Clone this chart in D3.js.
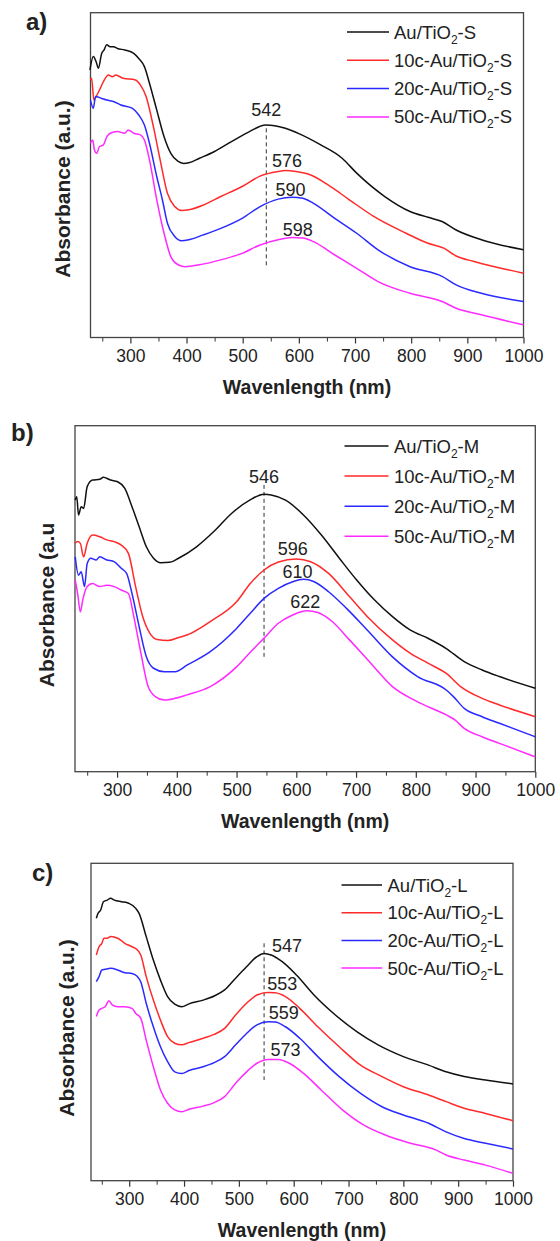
<!DOCTYPE html>
<html lang="en">
<head>
<meta charset="utf-8">
<title>UV-Vis absorbance</title>
<script src="https://d3js.org/d3.v7.min.js"></script>
<style>
  body { margin: 0; background: #fff; }
  text { font-family: "Liberation Sans", Arial, sans-serif; fill: #222; }
</style>
</head>
<body>
<script>
// ---- data (wavelength nm, absorbance a.u.) ----
var xTicks = [300, 400, 500, 600, 700, 800, 900, 1000];
var seriesColors = ["#111111", "#ff2a2a", "#2a2aff", "#ff2aff"];

// panel a, -S samples
var namesA = ["Au/TiO|2|-S", "10c-Au/TiO|2|-S", "20c-Au/TiO|2|-S", "50c-Au/TiO|2|-S"];
var aBlack = [[228,0.824],[234,0.865],[239,0.849],[243,0.829],[249,0.875],[253,0.885],[258,0.901],[264,0.895],[270,0.895],[277,0.890],[290,0.885],[306,0.875],[315,0.859],[325,0.834],[334,0.783],[347,0.700],[360,0.618],[372,0.567],[385,0.542],[395,0.536],[404,0.538],[423,0.552],[449,0.572],[480,0.603],[512,0.634],[541,0.654],[557,0.652],[576,0.644],[601,0.627],[639,0.593],[677,0.552],[703,0.506],[753,0.434],[798,0.388],[830,0.370],[855,0.357],[880,0.331],[925,0.301],[1000,0.270]];
var aRed = [[229,0.793],[231,0.798],[235,0.731],[239,0.742],[245,0.762],[252,0.788],[261,0.808],[268,0.803],[274,0.808],[287,0.798],[309,0.793],[318,0.777],[328,0.742],[341,0.649],[353,0.547],[366,0.444],[379,0.403],[391,0.391],[404,0.393],[430,0.408],[461,0.434],[499,0.465],[531,0.497],[563,0.511],[576,0.514],[595,0.511],[620,0.501],[652,0.470],[690,0.424],[734,0.372],[791,0.321],[830,0.290],[858,0.275],[880,0.251],[912,0.234],[1000,0.198]];
var aBlue = [[229,0.731],[234,0.706],[238,0.742],[249,0.736],[258,0.731],[271,0.726],[283,0.716],[303,0.706],[315,0.685],[325,0.654],[334,0.598],[347,0.495],[357,0.424],[366,0.352],[379,0.311],[391,0.298],[404,0.301],[430,0.316],[461,0.336],[499,0.367],[531,0.403],[563,0.426],[588,0.432],[607,0.429],[626,0.413],[664,0.367],[703,0.321],[741,0.270],[798,0.218],[855,0.188],[880,0.162],[925,0.136],[1000,0.111]];
var aPink = [[229,0.598],[233,0.608],[236,0.577],[240,0.567],[245,0.588],[252,0.593],[258,0.618],[264,0.629],[277,0.634],[290,0.629],[296,0.639],[306,0.629],[318,0.624],[325,0.608],[334,0.547],[347,0.424],[360,0.321],[372,0.249],[385,0.224],[398,0.218],[423,0.224],[461,0.239],[499,0.259],[531,0.285],[563,0.301],[588,0.308],[607,0.306],[626,0.295],[664,0.254],[703,0.213],[741,0.172],[798,0.136],[855,0.111],[880,0.090],[925,0.070],[1000,0.039]];
var peakTextA = ["542", "576", "590", "598"];
var peakPosA = [[542,0.700],[579,0.542],[585,0.454],[598,0.331]];
var dashA = [542, 0.644, 0.213];

// panel b, -M samples
var namesB = ["Au/TiO|2|-M", "10c-Au/TiO|2|-M", "20c-Au/TiO|2|-M", "50c-Au/TiO|2|-M"];
var bBlack = [[230,0.785],[232.5,0.795],[235.5,0.742],[240,0.766],[244,0.761],[250,0.824],[259,0.843],[271,0.845],[277,0.851],[289,0.843],[301,0.838],[313,0.819],[325,0.766],[337,0.708],[349,0.650],[361,0.617],[373,0.604],[388,0.605],[403,0.617],[433,0.650],[462,0.694],[492,0.747],[522,0.785],[546,0.802],[558,0.800],[582,0.785],[612,0.742],[642,0.684],[672,0.617],[701,0.554],[731,0.496],[761,0.448],[791,0.409],[821,0.385],[851,0.356],[881,0.318],[911,0.294],[940,0.275],[1000,0.241]];
var bRed = [[230,0.660],[234,0.665],[238.5,0.660],[244,0.621],[250,0.660],[259,0.684],[271,0.679],[283,0.670],[295,0.665],[307,0.655],[319,0.631],[331,0.535],[343,0.448],[355,0.400],[367,0.382],[385,0.379],[403,0.388],[417,0.395],[456,0.434],[500,0.491],[523,0.544],[546,0.583],[570,0.606],[600,0.615],[624,0.607],[654,0.573],[689,0.506],[719,0.448],[761,0.381],[791,0.342],[821,0.313],[851,0.284],[875,0.246],[911,0.212],[940,0.193],[1000,0.159]];
var bBlue = [[230,0.621],[235.5,0.568],[240,0.578],[245.5,0.535],[250,0.602],[256,0.617],[265,0.612],[271,0.621],[283,0.612],[295,0.607],[307,0.588],[316,0.573],[325,0.515],[337,0.419],[349,0.332],[361,0.299],[379,0.289],[397,0.289],[417,0.308],[456,0.347],[500,0.414],[523,0.458],[546,0.501],[570,0.530],[594,0.549],[612,0.556],[630,0.549],[654,0.520],[684,0.472],[719,0.409],[761,0.332],[803,0.275],[851,0.236],[863,0.217],[881,0.183],[911,0.159],[940,0.140],[1000,0.101]];
var bPink = [[230,0.554],[234,0.515],[238.5,0.462],[242.5,0.496],[250,0.535],[259,0.544],[271,0.535],[283,0.539],[295,0.535],[307,0.525],[319,0.515],[328,0.448],[340,0.342],[352,0.246],[364,0.217],[379,0.207],[397,0.212],[417,0.222],[456,0.246],[500,0.303],[523,0.345],[546,0.386],[570,0.429],[594,0.453],[618,0.465],[636,0.460],[660,0.434],[689,0.381],[725,0.313],[761,0.246],[803,0.202],[851,0.164],[866,0.149],[881,0.125],[911,0.101],[940,0.082],[1000,0.043]];
var peakTextB = ["546", "596", "610", "622"];
var peakPosB = [[546,0.853],[594,0.644],[602,0.576],[615,0.491]];
var dashB = [546, 0.829, 0.332];

// panel c, -L samples
var namesC = ["Au/TiO|2|-L", "10c-Au/TiO|2|-L", "20c-Au/TiO|2|-L", "50c-Au/TiO|2|-L"];
var cBlack = [[240,0.827],[243,0.842],[248,0.853],[253,0.879],[260,0.884],[266,0.890],[273,0.884],[286,0.879],[299,0.874],[312,0.858],[318,0.842],[331,0.769],[344,0.695],[357,0.632],[370,0.580],[383,0.556],[396,0.548],[409,0.557],[435,0.569],[455,0.582],[474,0.601],[494,0.638],[514,0.674],[533,0.706],[546,0.716],[559,0.711],[579,0.690],[605,0.648],[637,0.585],[676,0.522],[715,0.470],[754,0.428],[800,0.391],[846,0.364],[878,0.343],[911,0.328],[950,0.317],[1000,0.305]];
var cRed = [[240,0.711],[245,0.737],[250,0.748],[254,0.764],[260,0.764],[266,0.769],[279,0.764],[292,0.748],[305,0.737],[315,0.727],[321,0.711],[331,0.643],[344,0.569],[357,0.506],[370,0.454],[383,0.433],[396,0.428],[409,0.435],[435,0.449],[455,0.461],[474,0.480],[494,0.522],[514,0.559],[533,0.585],[553,0.593],[566,0.592],[585,0.580],[611,0.543],[644,0.485],[683,0.422],[722,0.364],[761,0.328],[800,0.296],[846,0.270],[878,0.249],[911,0.228],[950,0.212],[1000,0.189]];
var cBlue = [[240,0.627],[245,0.643],[250,0.664],[256,0.666],[266,0.669],[279,0.664],[292,0.655],[305,0.653],[315,0.643],[321,0.627],[331,0.559],[344,0.485],[357,0.422],[370,0.375],[383,0.343],[396,0.338],[409,0.347],[435,0.359],[455,0.372],[474,0.391],[494,0.428],[514,0.464],[533,0.491],[553,0.501],[566,0.500],[585,0.485],[611,0.449],[644,0.391],[683,0.328],[722,0.275],[761,0.233],[800,0.207],[846,0.181],[878,0.154],[911,0.133],[950,0.118],[1000,0.100]];
var cPink = [[240,0.517],[245,0.538],[250,0.543],[256,0.548],[263,0.567],[269,0.554],[279,0.548],[292,0.548],[305,0.543],[312,0.527],[321,0.512],[331,0.443],[344,0.359],[357,0.286],[370,0.244],[383,0.223],[396,0.217],[409,0.225],[435,0.235],[455,0.246],[474,0.265],[494,0.307],[514,0.343],[533,0.370],[553,0.382],[572,0.382],[592,0.370],[618,0.338],[650,0.286],[689,0.223],[728,0.175],[767,0.144],[813,0.118],[859,0.097],[878,0.081],[911,0.065],[950,0.049],[1000,0.023]];
var peakTextC = ["547", "553", "559", "573"];
var peakPosC = [[588,0.739],[579,0.620],[582,0.527],[585,0.412]];
var dashC = [546, 0.748, 0.317];

// ---- layout ----
var W = 560, H = 1241;
var svg = d3.select("body").append("svg").attr("width", W).attr("height", H);

var panels = [
  { tag: "a)", tagX: 26, tagY: 30, box: [90.5, 12.7, 523.5, 337.5], x0: 229,
    ytitle: "Absorbance (a.u.)", ytX: 62, ytY: 189,
    names: namesA, series: [aBlack, aRed, aBlue, aPink], peakText: peakTextA, peakPos: peakPosA, dash: dashA,
    leg: { x1: 347, x2: 389, tx: 394, y: 32, dy: 28.3 } },
  { tag: "b)", tagX: 11, tagY: 441, box: [75, 425.7, 535.3, 771.7], x0: 229.6,
    ytitle: "Absorbance (a.u", ytX: 46, ytY: 605,
    names: namesB, series: [bBlack, bRed, bBlue, bPink], peakText: peakTextB, peakPos: peakPosB, dash: dashB,
    leg: { x1: 344.5, x2: 388.5, tx: 394, y: 446, dy: 30.1 } },
  { tag: "c)", tagX: 32, tagY: 881, box: [91, 863.3, 513, 1180.7], x0: 230.3,
    ytitle: "Absorbance (a.u.)", ytX: 66, ytY: 1028,
    names: namesC, series: [cBlack, cRed, cBlue, cPink], peakText: peakTextC, peakPos: peakPosC, dash: dashC,
    leg: { x1: 341.5, x2: 382, tx: 387.5, y: 885, dy: 27.7 } }
];

panels.forEach(drawPanel);

function drawPanel(p) {
  var L = p.box[0], T = p.box[1], R = p.box[2], B = p.box[3];
  var x = d3.scaleLinear().domain([p.x0, 1000]).range([L, R]);
  var y = d3.scaleLinear().domain([0, 1]).range([B, T]);
  var g = svg.append("g");

  // minor ticks every 50
  var minor = d3.range(250, 1000, 100);
  var xAxisMinor = d3.axisBottom(x).tickValues(minor).tickSize(4).tickFormat("");
  g.append("g").attr("transform", "translate(0," + B + ")").call(xAxisMinor)
    .call(function(s){ s.select(".domain").remove(); s.selectAll("line").attr("stroke", "#333").attr("stroke-width", 1); });

  var xAxis = d3.axisBottom(x).tickValues(xTicks).tickSize(6).tickPadding(6).tickFormat(d3.format("d"));
  g.append("g").attr("transform", "translate(0," + B + ")").call(xAxis)
    .call(function(s){
      s.select(".domain").remove();
      s.selectAll("line").attr("stroke", "#333").attr("stroke-width", 1.2);
      s.selectAll("text").attr("font-size", 17.5).attr("fill", "#222")
        .attr("font-family", "Liberation Sans, Arial, sans-serif");
    });

  // frame
  g.append("rect").attr("x", L).attr("y", T).attr("width", R - L).attr("height", B - T)
    .attr("fill", "none").attr("stroke", "#444").attr("stroke-width", 1.3);

  // dashed peak marker
  g.append("line")
    .attr("x1", x(p.dash[0])).attr("x2", x(p.dash[0]))
    .attr("y1", y(p.dash[1])).attr("y2", y(p.dash[2]))
    .attr("stroke", "#333").attr("stroke-width", 1).attr("stroke-dasharray", "4,3");

  var line = d3.line().x(function(d){ return x(d[0]); }).y(function(d){ return y(d[1]); })
    .curve(d3.curveMonotoneX);

  p.series.forEach(function(s, i){
    g.append("path").datum(s).attr("d", line)
      .attr("fill", "none").attr("stroke", seriesColors[i]).attr("stroke-width", 1.5);
  });

  // peak labels
  p.peakText.forEach(function(t, i){
    g.append("text").text(t)
      .attr("x", x(p.peakPos[i][0])).attr("y", y(p.peakPos[i][1]))
      .attr("text-anchor", "middle").attr("dominant-baseline", "central")
      .attr("font-size", 18);
  });

  // legend
  p.names.forEach(function(n, i){
    var ly = p.leg.y + i * p.leg.dy;
    g.append("line").attr("x1", p.leg.x1).attr("x2", p.leg.x2).attr("y1", ly).attr("y2", ly)
      .attr("stroke", seriesColors[i]).attr("stroke-width", 1.5);
    var parts = n.split("|");
    var t = g.append("text").attr("x", p.leg.tx).attr("y", ly + 6.5).attr("font-size", 18.5);
    t.append("tspan").text(parts[0]);
    t.append("tspan").text(parts[1]).attr("font-size", 12).attr("dy", 5);
    t.append("tspan").text(parts[2]).attr("dy", -5);
  });

  // axis titles
  g.append("text").text("Wavenlength (nm)")
    .attr("x", (L + R) / 2).attr("y", B + 56)
    .attr("text-anchor", "middle").attr("font-size", 19.5).attr("font-weight", "bold");
  g.append("text").text(p.ytitle)
    .attr("transform", "translate(" + p.ytX + "," + p.ytY + ") rotate(-90)")
    .attr("text-anchor", "middle").attr("dominant-baseline", "central")
    .attr("font-size", 21).attr("font-weight", "bold");

  // panel tag
  g.append("text").text(p.tag).attr("x", p.tagX).attr("y", p.tagY)
    .attr("font-size", 24).attr("font-weight", "bold");
}
</script>
</body>
</html>
